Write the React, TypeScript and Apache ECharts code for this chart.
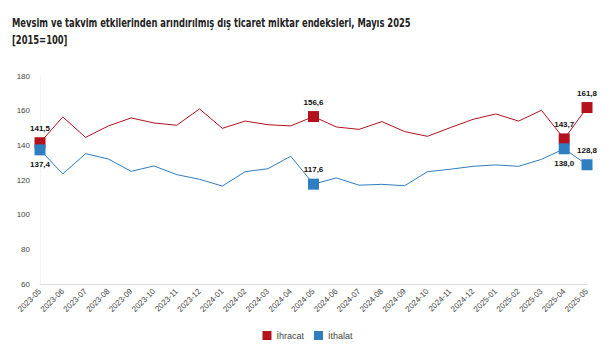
import React, { useEffect, useRef } from "react";
import * as echarts from "echarts";

const categories = [
  "2023-05", "2023-06", "2023-07", "2023-08", "2023-09", "2023-10", "2023-11", "2023-12",
  "2024-01", "2024-02", "2024-03", "2024-04", "2024-05", "2024-06", "2024-07", "2024-08",
  "2024-09", "2024-10", "2024-11", "2024-12", "2025-01", "2025-02", "2025-03", "2025-04", "2025-05",
];
const ihracat = [
  141.5, 156.4, 144.6, 151.2, 155.8, 152.9, 151.6, 161.0, 149.8, 154.0, 151.9, 151.2, 156.6,
  150.6, 149.2, 153.7, 147.9, 145.2, 150.2, 155.0, 158.1, 154.0, 160.2, 143.7, 161.8,
];
const ithalat = [
  137.4, 123.5, 135.2, 132.1, 125.0, 128.1, 123.1, 120.4, 116.5, 124.8, 126.5, 133.7, 117.6,
  121.2, 117.0, 117.5, 116.7, 124.8, 126.2, 127.9, 128.7, 127.9, 131.9, 138.0, 128.8,
];
const highlighted = [0, 12, 23, 24];
const ihracatLabelPos = ["top", "top", "top", "top"];
const ithalatLabelPos = ["bottom", "top", "bottom", "top"];
const yTicks = { min: 60, max: 180, interval: 20 };
const titleLines = [
  "Mevsim ve takvim etkilerinden arındırılmış dış ticaret miktar endeksleri, Mayıs 2025",
  "[2015=100]",
];

const RED = "#b3121d";
const BLUE = "#2f7ebf";

function buildData(values: number[], color: string, positions: string[]) {
  return values.map((v, i) => {
    const h = highlighted.indexOf(i);
    if (h < 0) return { value: v };
    return {
      value: v,
      symbol: "rect",
      symbolSize: 11,
      itemStyle: { color },
      label: {
        show: true,
        position: positions[h],
        distance: 5,
        formatter: (p: any) => Number(p.value).toFixed(1).replace(".", ","),
        color: "#111",
        fontSize: 8,
        fontWeight: "bold",
        fontFamily: "Liberation Sans",
      },
    };
  });
}

export default function App() {
  const ref = useRef<HTMLDivElement>(null);
  useEffect(() => {
    if (!ref.current) return;
    const chart = echarts.init(ref.current, null, { renderer: "svg" });
    chart.setOption({
      animation: false,
      backgroundColor: "#fff",
      graphic: titleLines.map((t, i) => ({
        type: "text",
        x: 4,
        y: 9 + i * 17,
        scaleX: 0.81,
        style: {
          text: t,
          fontFamily: "'DejaVu Sans Condensed', 'Liberation Sans', sans-serif",
          fontWeight: "bold",
          fontSize: 11.5,
          fill: "#222",
          textVerticalAlign: "top",
        },
      })),
      legend: {
        bottom: 0,
        left: "center",
        icon: "rect",
        itemWidth: 9,
        itemHeight: 9,
        itemGap: 10,
        textStyle: { fontSize: 9, color: "#444", fontFamily: "Liberation Sans" },
        data: ["İhracat", "İthalat"],
      },
      grid: { left: 32, right: 20, top: 68, bottom: 61, containLabel: false },
      xAxis: {
        type: "category",
        data: categories,
        boundaryGap: false,
        axisLine: { lineStyle: { color: "#ddd" } },
        axisTick: { show: false },
        axisLabel: {
          rotate: 45,
          interval: 0,
          fontSize: 8,
          color: "#444",
          fontFamily: "Liberation Sans",
          margin: 6,
        },
      },
      yAxis: {
        type: "value",
        min: yTicks.min,
        max: yTicks.max,
        interval: yTicks.interval,
        axisLine: { show: true, lineStyle: { color: "#f2f2f2" } },
        axisTick: { show: false },
        splitLine: { show: false },
        axisLabel: { fontSize: 8, color: "#444", fontFamily: "Liberation Sans", margin: 10 },
      },
      series: [
        {
          name: "İhracat",
          type: "line",
          symbol: "none",
          showSymbol: true,
          color: RED,
          lineStyle: { width: 1, color: RED },
          data: buildData(ihracat, RED, ihracatLabelPos),
        },
        {
          name: "İthalat",
          type: "line",
          symbol: "none",
          showSymbol: true,
          color: BLUE,
          lineStyle: { width: 1, color: BLUE },
          data: buildData(ithalat, BLUE, ithalatLabelPos),
        },
      ],
    });
    return () => chart.dispose();
  }, []);
  return <div ref={ref} style={{ width: 599, height: 337 }} />;
}
